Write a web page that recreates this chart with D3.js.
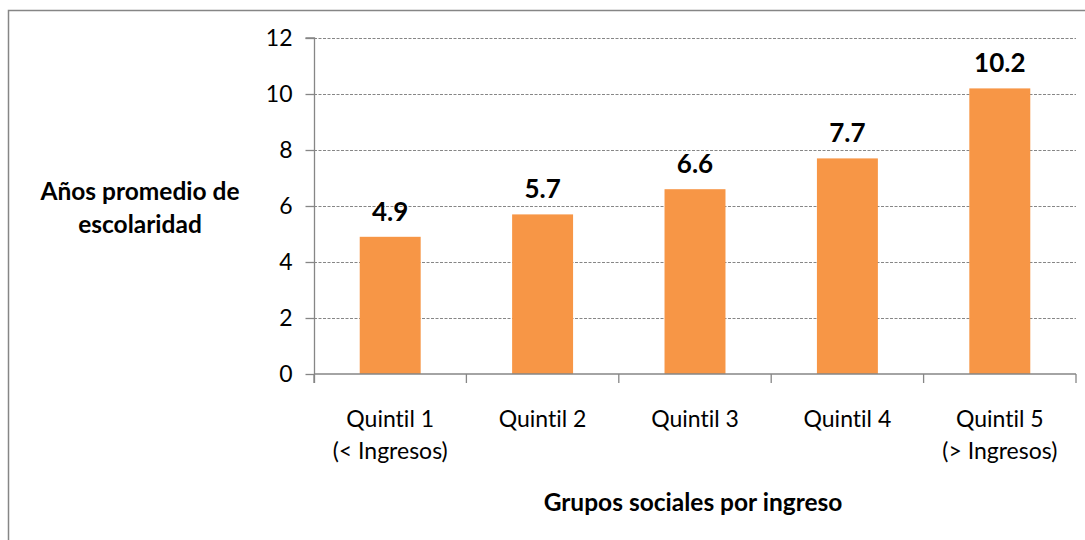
<!DOCTYPE html>
<html>
<head>
<meta charset="utf-8">
<script src="https://cdn.jsdelivr.net/npm/d3@7"></script>
<style>
  body { margin: 0; background: #fff; }
  svg text { font-family: Lato, "Open Sans", sans-serif; fill: #000; font-variant-ligatures: none; }
</style>
</head>
<body>
<svg id="chart" width="1085" height="540"></svg>
<script>
// data
var categories = [['Quintil 1', '(< Ingresos)'], ['Quintil 2'], ['Quintil 3'], ['Quintil 4'], ['Quintil 5', '(> Ingresos)']];
var values = [4.9, 5.7, 6.6, 7.7, 10.2];
var yTicks = [0, 2, 4, 6, 8, 10, 12];
var yTitle = ['Años promedio de', 'escolaridad'];
var xTitle = 'Grupos sociales por ingreso';

var barColor = '#f79646',
    lineColor = '#868686';

var svg = d3.select('#chart');

// outer frame (only top/left edges fall inside the picture)
svg.append('rect')
    .attr('x', 8.5).attr('y', 10.5)
    .attr('width', 1100).attr('height', 560)
    .attr('fill', 'none').attr('stroke', lineColor).attr('stroke-width', 1.5);

var plot = { left: 314, right: 1076, top: 38, bottom: 374 };

var x = d3.scaleBand()
    .domain(d3.range(categories.length))
    .range([plot.left, plot.right])
    .paddingInner(0.6)
    .paddingOuter(0.3);

var y = d3.scaleLinear()
    .domain([0, 12])
    .range([plot.bottom, plot.top]);

// gridlines
svg.append('g').selectAll('line')
    .data(yTicks.filter(function(d){ return d > 0; }))
    .enter().append('line')
    .attr('x1', plot.left).attr('x2', plot.right)
    .attr('y1', function(d){ return Math.round(y(d)) + 0.5; })
    .attr('y2', function(d){ return Math.round(y(d)) + 0.5; })
    .attr('stroke', lineColor).attr('stroke-width', 1)
    .attr('stroke-dasharray', '3,1.5');

// bars
svg.append('g').selectAll('rect')
    .data(values)
    .enter().append('rect')
    .attr('x', function(d, i){ return x(i); })
    .attr('width', x.bandwidth())
    .attr('y', function(d){ return y(d); })
    .attr('height', function(d){ return y(0) - y(d); })
    .attr('fill', barColor);

// value labels
svg.append('g').selectAll('text')
    .data(values)
    .enter().append('text')
    .attr('x', function(d, i){ return x(i) + x.bandwidth() / 2; })
    .attr('y', function(d){ return y(d) - 16; })
    .attr('text-anchor', 'middle')
    .attr('font-size', 26).attr('font-weight', 'bold')
    .text(function(d){ return d.toFixed(1); });

// y axis
var yAxis = d3.axisLeft(y).tickValues(yTicks).tickSize(9).tickPadding(13);
var gy = svg.append('g')
    .attr('transform', 'translate(' + (plot.left + 0.5) + ',0)')
    .call(yAxis);
gy.select('.domain').attr('stroke', lineColor).attr('stroke-width', 1.3)
    .attr('d', 'M-9,' + y(12) + 'H0V' + (y(0) + 9));
gy.selectAll('.tick line').attr('stroke', lineColor).attr('stroke-width', 1.3);
gy.selectAll('.tick text').attr('font-size', 23).attr('font-family', 'Lato, sans-serif').attr('fill', '#000');

// x axis line and category separators
var step = x.step();
var gx = svg.append('g');
gx.append('line')
    .attr('x1', plot.left).attr('x2', plot.right)
    .attr('y1', y(0)).attr('y2', y(0))
    .attr('stroke', lineColor).attr('stroke-width', 1.3);
gx.selectAll('line.sep')
    .data(d3.range(categories.length + 1))
    .enter().append('line')
    .attr('class', 'sep')
    .attr('x1', function(i){ return plot.left + i * step; })
    .attr('x2', function(i){ return plot.left + i * step; })
    .attr('y1', y(0)).attr('y2', y(0) + 9)
    .attr('stroke', lineColor).attr('stroke-width', 1.3);

// category labels
var cat = svg.append('g').selectAll('text')
    .data(categories)
    .enter().append('text')
    .attr('text-anchor', 'middle')
    .attr('font-size', 23)
    .attr('transform', function(d, i){ return 'translate(' + (x(i) + x.bandwidth() / 2) + ',427)'; });
cat.selectAll('tspan')
    .data(function(d){ return d; })
    .enter().append('tspan')
    .attr('x', 0)
    .attr('y', function(d, j){ return j * 32; })
    .text(function(d){ return d; });

// axis titles
svg.append('text')
    .attr('text-anchor', 'middle')
    .attr('font-size', 24.5).attr('font-weight', 'bold')
    .selectAll('tspan')
    .data(yTitle)
    .enter().append('tspan')
    .attr('x', 140)
    .attr('y', function(d, j){ return 200 + j * 33; })
    .text(function(d){ return d; });

svg.append('text')
    .attr('x', 693).attr('y', 511)
    .attr('text-anchor', 'middle')
    .attr('font-size', 24.5).attr('font-weight', 'bold')
    .text(xTitle);
</script>
</body>
</html>
